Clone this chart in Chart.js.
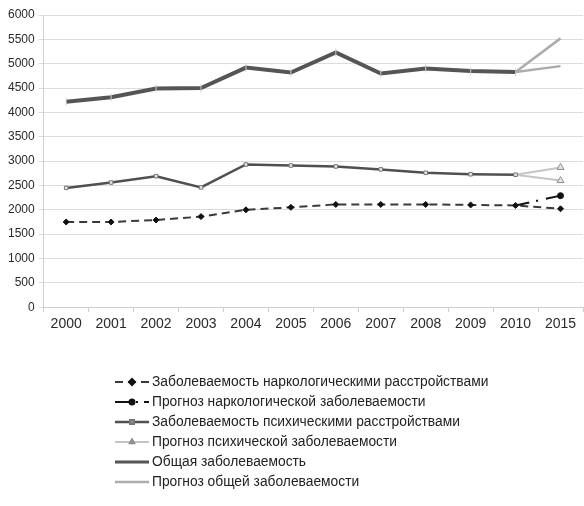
<!DOCTYPE html>
<html lang="ru">
<head>
<meta charset="utf-8">
<title>Заболеваемость и прогноз</title>
<script src="https://cdn.jsdelivr.net/npm/chart.js@4.4.1/dist/chart.umd.min.js"></script>
<style>
  html, body { margin: 0; padding: 0; background: #fff; overflow: hidden; }
  #wrap { width: 588px; height: 506px; }
</style>
</head>
<body>
<div id="wrap"><canvas id="chart" width="588" height="506"></canvas></div>
<script>
// Годы наблюдения и прогнозный год
const years = ['2000', '2001', '2002', '2003', '2004', '2005', '2006', '2007', '2008', '2009', '2010', '2015'];

// Наркологические расстройства (на 100 тыс. населения)
const narcoRate     = [1750, 1750, 1790, 1860, 2000, 2050, 2110, 2110, 2110, 2100, 2090, 2020];
const narcoForecast = [null, null, null, null, null, null, null, null, null, null, 2090, 2290];

// Психические расстройства
const psychRate        = [2450, 2560, 2690, 2460, 2930, 2910, 2890, 2830, 2760, 2730, 2720, null];
const psychForecast    = [null, null, null, null, null, null, null, null, null, null, 2720, 2870];
const psychForecastLow = [null, null, null, null, null, null, null, null, null, null, 2720, 2600];

// Общая заболеваемость
const totalRate        = [4220, 4310, 4490, 4500, 4920, 4820, 5230, 4800, 4900, 4850, 4830, null];
const totalForecast    = [null, null, null, null, null, null, null, null, null, null, 4830, 5520];
const totalForecastLow = [null, null, null, null, null, null, null, null, null, null, 4830, 4950];

// Подписи легенды
const seriesNames = [
  'Заболеваемость наркологическими расстройствами',
  'Прогноз наркологической заболеваемости',
  'Заболеваемость психическими расстройствами',
  'Прогноз психической заболеваемости',
  'Общая заболеваемость',
  'Прогноз общей заболеваемости'
];

// Шкала оси Y
const yMin = 0, yMax = 6000, yStep = 500;

const FONT = '"Liberation Sans", Arial, sans-serif';

// Маркер только у последней (прогнозной) точки
const lastOnly = (r) => years.map((_, i) => (i === years.length - 1 ? r : 0));

// Легенда: одна запись в строке, выровнена по левому краю
const stackedLegend = {
  id: 'stackedLegend',
  afterDraw(chart, args, opts) {
    const ctx = chart.ctx;
    ctx.save();
    ctx.font = opts.fontSize + 'px ' + FONT;
    ctx.textBaseline = 'middle';
    ctx.textAlign = 'left';
    chart.data.datasets.forEach((ds) => {
      if (ds.legendRow === undefined) return;
      const y = opts.top + ds.legendRow * opts.rowGap;
      const x0 = opts.left, x1 = opts.left + opts.sample;
      ctx.strokeStyle = ds.borderColor;
      ctx.lineWidth = Math.min(ds.borderWidth, 3);
      ctx.setLineDash(ds.legendDash || ds.borderDash || []);
      ctx.beginPath();
      ctx.moveTo(x0, y);
      ctx.lineTo(x1, y);
      ctx.stroke();
      ctx.setLineDash([]);
      if (ds.legendMarker) {
        ctx.fillStyle = ds.pointBackgroundColor;
        ctx.strokeStyle = ds.pointBorderColor;
        Chart.helpers.drawPoint(ctx, {
          pointStyle: ds.pointStyle,
          radius: ds.legendMarker,
          borderWidth: ds.pointBorderWidth || 1,
          rotation: ds.pointRotation || 0
        }, (x0 + x1) / 2, y);
      }
      ctx.fillStyle = '#222';
      ctx.fillText(ds.label, x1 + 3, y + 0.5);
    });
    ctx.restore();
  }
};

new Chart(document.getElementById('chart'), {
  type: 'line',
  data: {
    labels: years,
    datasets: [
      {
        label: seriesNames[1], legendRow: 1, data: narcoForecast,
        borderColor: '#111', borderWidth: 2, borderDash: [14, 7, 2, 8],
        legendDash: [16, 5, 2, 6],
        pointStyle: 'circle', pointRadius: lastOnly(3), pointBorderWidth: 1,
        pointBackgroundColor: '#111', pointBorderColor: '#111', legendMarker: 2.5
      },
      {
        label: seriesNames[0], legendRow: 0, data: narcoRate,
        borderColor: '#3a3a3a', borderWidth: 2, borderDash: [8, 5],
        pointStyle: 'rectRot', pointRadius: 3, pointBorderWidth: 1,
        pointBackgroundColor: '#111', pointBorderColor: '#111', legendMarker: 3
      },
      {
        label: seriesNames[2], legendRow: 2, data: psychRate,
        borderColor: '#505050', borderWidth: 2.5,
        pointStyle: 'rect', pointRadius: 2.5, pointBorderWidth: 1,
        pointBackgroundColor: '#e6e6e6', pointBorderColor: '#777', legendMarker: 2.5
      },
      {
        label: seriesNames[3], legendRow: 3, data: psychForecast,
        borderColor: '#c4c4c4', borderWidth: 2,
        pointStyle: 'triangle', pointRadius: lastOnly(4), pointBorderWidth: 1,
        pointBackgroundColor: '#e8e8e8', pointBorderColor: '#8a8a8a', legendMarker: 2.5
      },
      {
        data: psychForecastLow,
        borderColor: '#c4c4c4', borderWidth: 2,
        pointStyle: 'triangle', pointRadius: lastOnly(4), pointBorderWidth: 1,
        pointBackgroundColor: '#e8e8e8', pointBorderColor: '#8a8a8a'
      },
      {
        label: seriesNames[5], legendRow: 5, data: totalForecast,
        borderColor: '#acacac', borderWidth: 2.5,
        pointRadius: 0
      },
      {
        data: totalForecastLow,
        borderColor: '#acacac', borderWidth: 2.5,
        pointRadius: 0
      },
      {
        label: seriesNames[4], legendRow: 4, data: totalRate,
        borderColor: '#555', borderWidth: 4,
        pointStyle: 'line', pointRotation: 90, pointRadius: 4, pointBorderWidth: 1,
        pointBackgroundColor: '#ccc', pointBorderColor: '#cfcfcf'
      }
    ]
  },
  options: {
    responsive: false,
    animation: false,
    spanGaps: false,
    layout: { padding: { left: 4, right: 1, top: 15, bottom: 169 } },
    plugins: {
      legend: { display: false },
      tooltip: { enabled: false },
      stackedLegend: { left: 115, sample: 34, top: 382, rowGap: 20, fontSize: 13.8 }
    },
    elements: { line: { tension: 0 } },
    scales: {
      x: {
        offset: true,
        grid: {
          offset: true, drawOnChartArea: false, drawTicks: true,
          tickLength: 5, color: '#cfcfcf'
        },
        border: { color: '#cfcfcf' },
        ticks: { color: '#2a2a2a', font: { family: FONT, size: 14 }, padding: 4, maxRotation: 0, autoSkip: false }
      },
      y: {
        min: yMin, max: yMax,
        grid: { color: '#dcdcdc', tickLength: 5, drawTicks: true },
        border: { color: '#cfcfcf' },
        ticks: {
          stepSize: yStep, color: '#2a2a2a', font: { family: FONT, size: 12 }, padding: 4,
          callback: (v) => String(v)
        }
      }
    }
  },
  plugins: [stackedLegend]
});
</script>
</body>
</html>
